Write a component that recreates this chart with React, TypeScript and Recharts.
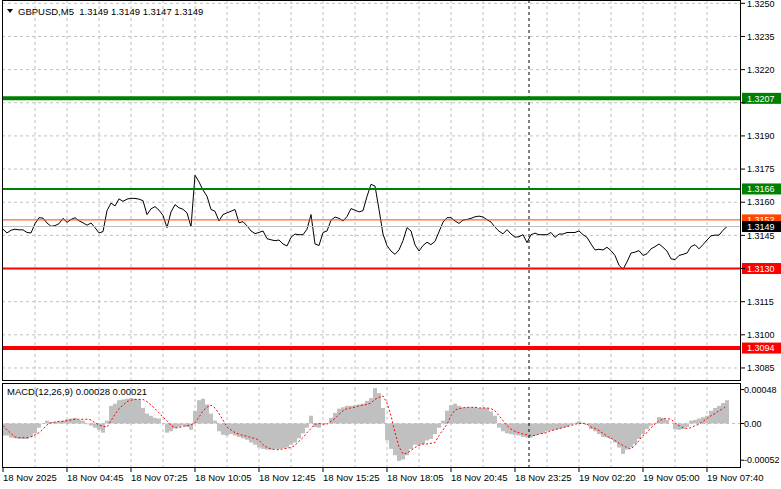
import React from "react";
import {
  ComposedChart, Line, Bar, XAxis, YAxis, CartesianGrid, ReferenceLine
} from "recharts";

// close prices, one point per 2 bars of M5
const closePrice = [
  1.31478, 1.31461, 1.31473, 1.31478, 1.31475, 1.31475, 1.31463, 1.31461, 1.31503, 1.3153,
  1.31528, 1.31506, 1.31491, 1.31494, 1.31503, 1.31527, 1.31509, 1.31522, 1.3153, 1.31516,
  1.31507, 1.31496, 1.31506, 1.31485, 1.31461, 1.31467, 1.31562, 1.31596, 1.31583, 1.31615,
  1.31604, 1.31614, 1.31618, 1.31617, 1.31614, 1.31607, 1.31544, 1.3157, 1.3158, 1.31564,
  1.3154, 1.31485, 1.31556, 1.31589, 1.31575, 1.31568, 1.31552,
  1.31488, 1.31722, 1.31692, 1.31655, 1.31627, 1.31567, 1.31559, 1.31515, 1.31544, 1.31552,
  1.31559, 1.31567, 1.31507, 1.31512, 1.31493, 1.3147, 1.31458, 1.31463, 1.3147, 1.31435,
  1.3143, 1.31426, 1.31429, 1.31411, 1.31402, 1.31441, 1.31456, 1.31453, 1.31453, 1.31478,
  1.31544, 1.31411, 1.31404, 1.31463, 1.3147, 1.31518, 1.31533, 1.31527, 1.31515, 1.31535,
  1.31571, 1.31564, 1.31556, 1.31562, 1.31626, 1.31681,
  1.31673, 1.31567, 1.31456, 1.31404, 1.31379, 1.31364, 1.31384, 1.31426, 1.31485, 1.3147,
  1.31407, 1.31379, 1.31404, 1.31419, 1.31408, 1.31423, 1.31466, 1.3151, 1.3153, 1.3153,
  1.31515, 1.31504, 1.31519, 1.31522, 1.31527, 1.31534, 1.31537, 1.31533, 1.31521, 1.3151,
  1.31487, 1.31469, 1.31457, 1.31476, 1.31456, 1.31442, 1.31444, 1.31453, 1.31417, 1.31453,
  1.3146, 1.31453, 1.31453, 1.31453, 1.31463, 1.31441,
  1.31456, 1.31456, 1.31463, 1.31463, 1.31463, 1.3147, 1.31453, 1.31441, 1.31411, 1.31384,
  1.31387, 1.31384, 1.31396, 1.31381, 1.31359, 1.31315, 1.31296, 1.3133, 1.3137, 1.31374,
  1.31381, 1.31359, 1.31367, 1.31389, 1.31399, 1.31411, 1.31396, 1.31379, 1.31344, 1.3134,
  1.31359, 1.31364, 1.3137, 1.31399, 1.31408, 1.31389, 1.31408, 1.31429, 1.31448, 1.31451,
  1.31451, 1.31473, 1.3149,
];

const macdHist = [
  -0.00017, -0.00017, -0.0002, -0.00021, -0.00022, -0.00022, -0.00022, -0.00019, -0.00014, -0.00006,
  0, 0.00004, 0.00002, 0.00002, 0.00003, 0.00004, 0.00006, 0.00007, 0.00008, 0.00005,
  0.00004, -0.00001, -0.00003, -0.00006, -0.00009, -0.00013, 0.00004, 0.00025, 0.00028, 0.00033,
  0.00034, 0.00035, 0.00036, 0.00035, 0.00034, 0.00022, 0.00014, 0.00011, 0.00008, 0.00007,
  0, -0.00013, -0.00011, -0.00007, -0.00005, -0.00003, -0.00005, -0.00009, 0.00018, 0.00033,
  0.00035, 0.00027, 0.00014, 0.00004, -0.00011, -0.00016, -0.00017, -0.00015, -0.00017, -0.00019,
  -0.00021, -0.00023, -0.00027, -0.0003, -0.00034, -0.00036, -0.00037, -0.00037, -0.00036, -0.00036,
  -0.00035, -0.00034, -0.0003, -0.00027, -0.00021, -0.00014, -0.00006, 0.00011, -0.00005, -0.00006,
  -0.00001, 0, 0.00008, 0.00015, 0.00021, 0.00023, 0.00025, 0.00025, 0.00026, 0.00027,
  0.00028, 0.00032, 0.00036, 0.0005, 0.00043, 0.00022, -0.00024, -0.00036, -0.00045, -0.00053,
  -0.00051, -0.00045, -0.00036, -0.0003, -0.00031, -0.00029, -0.00024, -0.00022, -0.00015, -0.00006,
  0.00004, 0.00018, 0.00026, 0.00028, 0.00025, 0.00023, 0.00023, 0.00023, 0.00023, 0.00022,
  0.00022, 0.00022, 0.00017, 0.00011, -0.00006, -0.00011, -0.00014, -0.00015, -0.00016, -0.00017,
  -0.00019, -0.0002, -0.0002, -0.00017, -0.00015, -0.00014, -0.00011, -0.0001, -0.00009, -0.00008,
  -0.00006, -0.00005, -0.00002, 0.00001, 0.00003, 0.00001, -0.00002, -0.00008, -0.00011, -0.00015,
  -0.00019, -0.0002, -0.00022, -0.00027, -0.00034, -0.00043, -0.00037, -0.00034, -0.00029, -0.00022,
  -0.00015, -0.00008, -0.00003, 0.00001, 0.00009, 0.00008, 0.00005, 0, -0.00008, -0.00009,
  -0.00008, -0.00005, 0.00004, 0.00005, 0.00007, 0.00009, 0.00011, 0.00018, 0.00022, 0.00025,
  0.00029, 0.00033,
];

const macdSignal = [
  -0.00003, -0.00009, -0.00014, -0.00019, -0.0002, -0.0002, -0.0002, -0.00019, -0.00016, -0.00013,
  -0.00008, -0.00002, 0.00001, 0.00002, 0.00003, 0.00003, 0.00004, 0.00005, 0.00006, 0.00006,
  0.00006, 0.00006, 0.00005, 0.00001, -0.00002, -0.00004, -0.00005, 0.00004, 0.00013, 0.00021,
  0.00026, 0.00031, 0.00033, 0.00034, 0.00034, 0.00034, 0.00031, 0.00026, 0.00021, 0.00015,
  0.00009, 0.00004, -0.00003, -0.00006, -0.00006, -0.00004, -0.00003, -0.00002, 0.00001, 0.00009,
  0.00018, 0.00023, 0.00026, 0.00022, 0.00014, 0.00005, -0.00005, -0.00009, -0.00013, -0.00015,
  -0.00017, -0.00018, -0.0002, -0.00021, -0.00024, -0.0003, -0.00034, -0.00036, -0.00037, -0.00037,
  -0.00036, -0.00035, -0.00034, -0.00031, -0.00025, -0.0002, -0.00013, -0.00007, -0.00001, 0,
  -0.00001, -0.00001, 0.00003, 0.00007, 0.00013, 0.00018, 0.00021, 0.00022, 0.00023, 0.00025,
  0.00026, 0.00027, 0.00029, 0.00034, 0.00037, 0.00039, 0.00029, 0.00011, -0.00013, -0.00033,
  -0.00043, -0.00042, -0.00038, -0.00034, -0.00031, -0.00029, -0.00029, -0.00028, -0.00027, -0.00017,
  -0.00009, -0.00001, 0.00011, 0.00019, 0.00021, 0.00022, 0.00023, 0.00023, 0.00023, 0.00022,
  0.00022, 0.00022, 0.00021, 0.00018, 0.00011, 0.00004, -0.00003, -0.00008, -0.00011, -0.00013,
  -0.00015, -0.00016, -0.00017, -0.00017, -0.00015, -0.00014, -0.00013, -0.0001, -0.00009, -0.00007,
  -0.00006, -0.00004, -0.00003, -0.00001, 0, 0, -0.00001, -0.00005, -0.00007, -0.0001,
  -0.00014, -0.00018, -0.00021, -0.00024, -0.00028, -0.00031, -0.00034, -0.00036, -0.00031, -0.00024,
  -0.00017, -0.00013, -0.00006, -0.00001, 0.00004, 0.00006, 0.00007, 0.00006, 0.00001, -0.00003,
  -0.00006, -0.00007, -0.00006, -0.00003, -0.00001, 0.00003, 0.00007, 0.00011, 0.00014, 0.00018,
  0.00021, 0.00025,
];

const timeLabels = [
  "18 Nov 2025", "18 Nov 04:45", "18 Nov 07:25", "18 Nov 10:05", "18 Nov 12:45", "18 Nov 15:25",
  "18 Nov 18:05", "18 Nov 20:45", "18 Nov 23:25", "19 Nov 02:20", "19 Nov 05:00", "19 Nov 07:40",
];

const priceTicks = [1.3085, 1.31, 1.3115, 1.313, 1.3145, 1.316, 1.3175, 1.319, 1.3205, 1.322, 1.3235, 1.325];
// tick labels that sit under a price tag in the reference
const coveredTicks = [1.3205, 1.313];
const macdTicks = [-0.00052, 0, 0.00048];

// horizontal levels drawn on the price panel
const levelPrices = [1.3207, 1.3166, 1.3152, 1.3149, 1.313, 1.3094];
const levelColors = ["#008000", "#008000", "#ff4500", "#c0c0c0", "#ff0000", "#ff0000"];
const levelTagColors = ["#008000", "#008000", "#ff4500", "#000000", "#ff0000", "#ff0000"];
const levelWidths = [4, 2, 1, 1, 2, 4];

const timeTicks = timeLabels.map((_, j) => j * 16);
const gridX = Array.from({ length: 22 }, (_, j) => (j + 1) * 8);
const cursorAt = 131.5;
const xDomain: [number, number] = [-0.25, 184.5];

const mainData = closePrice.map((p, i) => ({ i, p }));
const macdData = macdHist.map((h, i) => ({ i, h, s: macdSignal[i] }));

const gridColor = "#c0c0c0";

function PriceTag({ viewBox, value, fill }: any) {
  if (!viewBox) return null;
  const x = viewBox.x + viewBox.width;
  const y = viewBox.y;
  return (
    <g>
      <rect x={x + 1} y={y - 5.5} width={40} height={11} fill={fill} />
      <text x={x + 6} y={y + 3.3} fill="#ffffff" fontSize={9}>{value.toFixed(4)}</text>
    </g>
  );
}

function PriceTick(props: any) {
  const { x, y, payload } = props;
  if (coveredTicks.some((c) => Math.abs(c - payload.value) < 1e-6)) return null;
  return (
    <text x={x} y={y} dy="0.355em" textAnchor="start" fontSize={9} fill="#000">
      {payload.value.toFixed(4)}
    </text>
  );
}

function TimeTick(props: any) {
  const { x, y, index } = props;
  return (
    <text x={x} y={y} dy="0.71em" textAnchor="start" fontSize={9.5} fill="#000">
      {timeLabels[index]}
    </text>
  );
}

export default function App() {
  return (
    <div style={{ position: "relative", width: 781, height: 489, overflow: "hidden", background: "#fff", fontFamily: "'Liberation Sans', Arial, sans-serif" }}>
      <style>{"body{margin:0}"}</style>

      {/* price panel */}
      <div style={{ position: "absolute", left: 0, top: 0 }}>
        <ComposedChart width={781} height={381} data={mainData} margin={{ top: 0, right: 0, bottom: 0, left: 2 }}>
          <CartesianGrid vertical={false} stroke={gridColor} strokeDasharray="3 3" />
          <XAxis dataKey="i" type="number" domain={xDomain} hide allowDataOverflow />
          <YAxis
            orientation="right" width={40} domain={[1.30791, 1.32515]} ticks={priceTicks} interval={0}
            allowDataOverflow axisLine={false} tickLine={{ stroke: "#000" }} tickSize={4} tickMargin={2}
            tick={<PriceTick />}
          />
          {gridX.map((x) => (
            <ReferenceLine key={"g" + x} x={x} stroke={gridColor} strokeDasharray="3 3" />
          ))}
          <ReferenceLine x={cursorAt} stroke="#000" strokeDasharray="3 3" />
          <Line dataKey="p" type="linear" stroke="#000" strokeWidth={1} dot={false} isAnimationActive={false} />
          {levelPrices.map((p, n) => (
            <ReferenceLine
              key={"l" + p} y={p} stroke={levelColors[n]} strokeWidth={levelWidths[n]}
              label={(lp: any) => <PriceTag viewBox={lp.viewBox} value={p} fill={levelTagColors[n]} />}
            />
          ))}
        </ComposedChart>
      </div>

      {/* MACD panel */}
      <div style={{ position: "absolute", left: 0, top: 383 }}>
        <ComposedChart width={781} height={107} data={macdData} margin={{ top: 0, right: 0, bottom: 0, left: 2 }} barCategoryGap={0} barGap={0}>
          <XAxis
            dataKey="i" type="number" domain={xDomain} allowDataOverflow height={22}
            ticks={timeTicks} interval={0} axisLine={false} tickLine={{ stroke: "#000" }} tickSize={4}
            tick={<TimeTick />}
          />
          <YAxis
            orientation="right" width={40} domain={[-0.00063, 0.000573]} ticks={macdTicks} interval={0}
            allowDataOverflow axisLine={false} tickLine={{ stroke: "#000" }} tickSize={3} tickMargin={0}
            tick={{ fontSize: 9, fill: "#000" }} tickFormatter={(v: number) => (v === 0 ? "0.00" : v.toFixed(5))}
          />
          {gridX.map((x) => (
            <ReferenceLine key={"g" + x} x={x} stroke={gridColor} strokeDasharray="3 3" />
          ))}
          <ReferenceLine y={0} stroke={gridColor} strokeDasharray="3 3" />
          <Bar dataKey="h" fill="#c0c0c0" isAnimationActive={false} />
          <ReferenceLine x={cursorAt} stroke="#000" strokeDasharray="3 3" />
          <Line dataKey="s" type="linear" stroke="#ff0000" strokeWidth={1} strokeDasharray="2 2" dot={false} isAnimationActive={false} />
        </ComposedChart>
      </div>

      {/* frames and captions */}
      <svg width={781} height={489} style={{ position: "absolute", left: 0, top: 0, pointerEvents: "none" }}>
        <rect x={2.5} y={0.5} width={738} height={380} fill="none" stroke="#000" />
        <rect x={2.5} y={383.5} width={738} height={84} fill="none" stroke="#000" />
        <polygon points="7,9 13,9 10,13" fill="#000" />
        <text x={18} y={14.5} fontSize={9.5} fill="#000" style={{ whiteSpace: "pre" }}>
          {"GBPUSD,M5  1.3149 1.3149 1.3147 1.3149"}
        </text>
        <text x={7} y={395} fontSize={9.5} fill="#000">MACD(12,26,9) 0.00028 0.00021</text>
      </svg>
    </div>
  );
}
